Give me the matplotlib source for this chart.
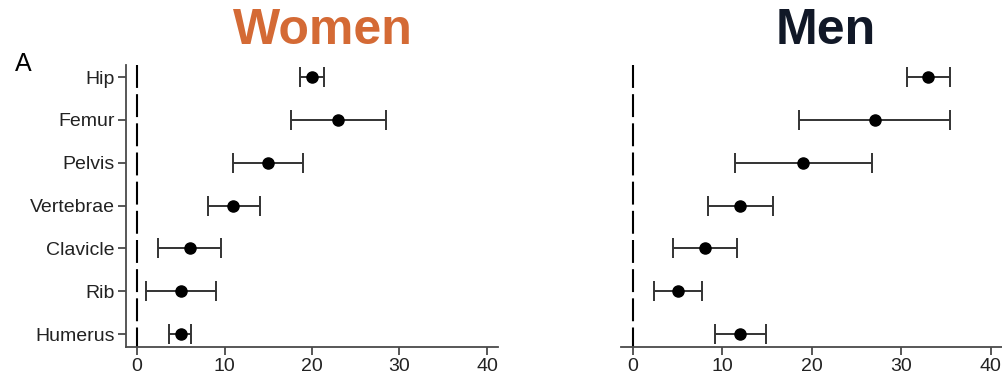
import matplotlib
matplotlib.use("Agg")
import matplotlib.pyplot as plt

plt.rcParams["font.family"] = ["Liberation Sans", "DejaVu Sans"]

# data
sites = ["Hip", "Femur", "Pelvis", "Vertebrae", "Clavicle", "Rib", "Humerus"]

women_est = [20.0, 23.0, 15.0, 11.0, 6.0, 5.0, 5.0]
women_lo = [18.6, 17.6, 11.0, 8.1, 2.4, 1.0, 3.7]
women_hi = [21.4, 28.5, 19.0, 14.0, 9.6, 9.0, 6.2]

men_est = [33.0, 27.0, 19.0, 12.0, 8.0, 5.0, 12.0]
men_lo = [30.6, 18.6, 11.4, 8.4, 4.5, 2.4, 9.2]
men_hi = [35.4, 35.4, 26.7, 15.7, 11.6, 7.7, 14.9]

x_ticks = [0, 10, 20, 30, 40]

W, H = 1003, 378
fig = plt.figure(figsize=(W / 100, H / 100), dpi=100)

ax_w = fig.add_axes([126 / W, 1 - 347 / H, 372 / W, 282 / H])
ax_m = fig.add_axes([621 / W, 1 - 347 / H, 382 / W, 282 / H])

ypos = [len(sites) - 1 - i for i in range(len(sites))]
spine_col = "#4a4a4a"
label_col = "#222222"


def draw_panel(ax, est, lo, hi, xlim):
    err = [[e - l for e, l in zip(est, lo)], [h - e for e, h in zip(est, hi)]]
    ax.errorbar(est, ypos, xerr=err, fmt="o", color="black", ms=8,
                ecolor="#333333", elinewidth=1.4, capsize=7, capthick=1.4,
                zorder=3)
    ax.plot([0, 0], [6.28, -0.30], color="black", lw=1.5,
            dashes=[11, 3], zorder=2)
    ax.set_xlim(*xlim)
    ax.set_ylim(-0.30, 6.28)
    ax.set_xticks(x_ticks)
    ax.set_xticklabels([str(t) for t in x_ticks], fontsize=14, color=label_col)
    for s in ["top", "right"]:
        ax.spines[s].set_visible(False)
    ax.spines["bottom"].set_color(spine_col)
    ax.spines["bottom"].set_linewidth(1.3)
    ax.tick_params(axis="x", length=6, width=1.3, color=spine_col, pad=2)


draw_panel(ax_w, women_est, women_lo, women_hi, (-1.26, 41.26))
ax_w.set_yticks(ypos)
ax_w.set_yticklabels(sites, fontsize=14, color=label_col)
ax_w.spines["left"].set_color(spine_col)
ax_w.spines["left"].set_linewidth(1.3)
ax_w.tick_params(axis="y", length=6, width=1.3, color=spine_col, pad=2)

draw_panel(ax_m, men_est, men_lo, men_hi, (-1.34, 41.35))
ax_m.spines["left"].set_visible(False)
ax_m.set_yticks([])

fig.text(323 / W, 1 - 31 / H, "Women", color="#D46A35", fontsize=36,
         fontweight="bold", ha="center", va="center")
fig.text(826 / W, 1 - 31 / H, "Men", color="#111827", fontsize=36,
         fontweight="bold", ha="center", va="center")
fig.text(15 / W, 1 - 64 / H, "A", fontsize=18, ha="left", va="center")
# panel B label is cropped at the bottom edge in the reference
fig.text(15 / W, 1 - 391 / H, "B", fontsize=18, ha="left", va="center")

fig.savefig("out.png", dpi=100)
